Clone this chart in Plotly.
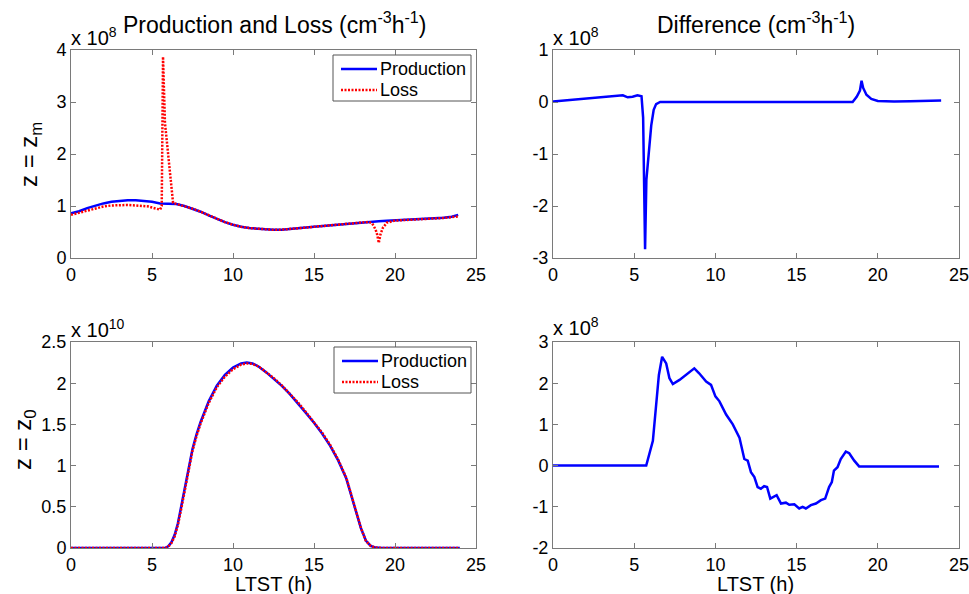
import plotly.graph_objects as go

# ---------------- data (values in units of the axis exponent) ----------------
# top-left: z = z_m, units 1e8 cm^-3 h^-1
t_prod_m = [0, 0.5, 1, 1.5, 2, 2.5, 3, 3.5, 4, 4.5, 5, 5.5, 6, 6.5, 7, 7.5, 8, 8.5, 9, 9.5,
            10, 10.5, 11, 11.5, 12, 12.5, 13, 13.5, 14, 14.5, 15, 15.5, 16, 16.5, 17, 17.5,
            18, 18.5, 19, 19.5, 20, 20.5, 21, 21.5, 22, 22.5, 23, 23.5, 23.9]
prod_m = [0.86, 0.90, 0.96, 1.01, 1.05, 1.08, 1.10, 1.11, 1.11, 1.10, 1.08, 1.05, 1.05, 1.04,
          1.00, 0.95, 0.89, 0.82, 0.75, 0.69, 0.64, 0.60, 0.575, 0.56, 0.548, 0.542, 0.545,
          0.555, 0.57, 0.585, 0.60, 0.615, 0.63, 0.645, 0.66, 0.672, 0.685, 0.697, 0.707,
          0.715, 0.722, 0.73, 0.737, 0.745, 0.752, 0.762, 0.775, 0.795, 0.83]

t_loss_m = [0, 0.5, 1, 1.5, 2, 2.5, 3, 3.5, 4, 4.5, 4.8, 5.0, 5.3, 5.5, 5.6, 5.68, 5.8, 6.3,
            6.5, 7, 7.5, 8, 8.5, 9, 9.5, 10, 10.5, 11, 11.5, 12, 12.5, 13, 13.5, 14, 14.5,
            15, 15.5, 16, 16.5, 17, 17.5, 18, 18.4, 18.6, 18.8, 18.9, 19.0, 19.1, 19.25,
            19.5, 19.8, 20, 20.5, 21, 21.5, 22, 22.5, 23, 23.5, 23.9]
loss_m = [0.83, 0.87, 0.92, 0.96, 0.99, 1.01, 1.02, 1.02, 1.01, 1.00, 0.99, 0.97, 0.94, 0.93,
          1.00, 3.87, 2.60, 1.06, 1.04, 1.00, 0.95, 0.89, 0.82, 0.75, 0.69, 0.64, 0.60, 0.575,
          0.56, 0.548, 0.542, 0.545, 0.555, 0.57, 0.585, 0.60, 0.615, 0.63, 0.645, 0.66,
          0.672, 0.685, 0.695, 0.66, 0.55, 0.45, 0.29, 0.45, 0.58, 0.68, 0.712, 0.72, 0.728,
          0.735, 0.742, 0.75, 0.758, 0.77, 0.785, 0.80]

# top-right: difference at z_m, units 1e8
t_diff_m = [0, 1, 2, 3, 4, 4.3, 4.6, 4.9, 5.2, 5.45, 5.55, 5.67, 5.75, 5.9, 6.05, 6.2, 6.35,
            6.6, 8, 10, 12, 14, 16, 18, 18.45, 18.7, 18.9, 19.0, 19.1, 19.3, 19.6, 20, 21,
            22, 23, 23.9]
diff_m = [0.01, 0.04, 0.07, 0.09, 0.12, 0.13, 0.09, 0.10, 0.13, 0.11, -0.30, -2.83, -1.50,
          -0.90, -0.45, -0.15, -0.04, 0.0, 0.0, -0.005, -0.01, -0.01, -0.01, -0.005, 0.0,
          0.10, 0.22, 0.41, 0.27, 0.14, 0.06, 0.02, 0.01, 0.015, 0.02, 0.03]

# bottom-left: z = z_0, units 1e10
t_z0 = [0, 5.8, 6.0, 6.2, 6.4, 6.6, 6.8, 7.0, 7.25, 7.5, 7.75, 8.0, 8.5, 9.0, 9.5, 10.0, 10.5,
        10.85, 11.2, 11.6, 12.0, 12.5, 13.0, 13.5, 14.0, 14.5, 15.0, 15.5, 16.0, 16.5, 17.0,
        17.3, 17.6, 17.9, 18.2, 18.5, 18.8, 19.2, 24]
prod_0 = [0, 0, 0.02, 0.07, 0.16, 0.30, 0.50, 0.70, 0.95, 1.20, 1.38, 1.53, 1.78, 1.97, 2.10,
          2.19, 2.24, 2.25, 2.24, 2.20, 2.14, 2.06, 1.97, 1.87, 1.76, 1.64, 1.52, 1.39, 1.24,
          1.06, 0.84, 0.65, 0.44, 0.24, 0.09, 0.025, 0.005, 0, 0]
loss_0 = [0, 0, 0.015, 0.06, 0.14, 0.28, 0.47, 0.68, 0.93, 1.18, 1.36, 1.51, 1.76, 1.95, 2.08,
          2.17, 2.225, 2.24, 2.235, 2.20, 2.14, 2.065, 1.975, 1.878, 1.769, 1.649, 1.53, 1.40,
          1.25, 1.069, 0.848, 0.657, 0.445, 0.242, 0.088, 0.025, 0.005, 0, 0]

# bottom-right: difference at z_0, units 1e8
t_diff_0 = [0, 5.74, 6.15, 6.4, 6.52, 6.72, 6.97, 7.17, 7.38, 7.79, 8.2, 8.7, 9.0, 9.43, 9.73,
            10.0, 10.25, 10.66, 11.07, 11.37, 11.48, 11.78, 11.99, 12.19, 12.4, 12.6, 12.8,
            13.0, 13.18, 13.38, 13.63, 13.77, 14.04, 14.34, 14.55, 14.86, 15.16, 15.37, 15.57,
            15.88, 16.19, 16.5, 16.76, 17.0, 17.17, 17.3, 17.52, 17.72, 18.03, 18.24, 18.55,
            18.85, 23.77]
diff_0 = [0, 0, 0.6, 1.64, 2.2, 2.64, 2.48, 2.12, 1.98, 2.08, 2.2, 2.36, 2.24, 2.04, 1.96,
          1.68, 1.56, 1.24, 1.0, 0.76, 0.68, 0.16, 0.12, -0.16, -0.28, -0.52, -0.56, -0.5,
          -0.52, -0.8, -0.76, -0.72, -0.92, -0.9, -0.95, -0.94, -1.04, -1.0, -1.04, -0.96,
          -0.92, -0.84, -0.8, -0.52, -0.4, -0.12, -0.04, 0.16, 0.34, 0.3, 0.12, -0.02, -0.02]

# tick values / labels
x_ticks = [0, 5, 10, 15, 20, 25]
y_ticks_tl = [0, 1, 2, 3, 4]
y_ticks_tr = [-3, -2, -1, 0, 1]
y_labels_tr = ["-3", "-2", "-1", "0", "1"]
y_ticks_bl = [0, 0.5, 1, 1.5, 2, 2.5]
y_labels_bl = ["0", "0.5", "1", "1.5", "2", "2.5"]
y_ticks_br = [-2, -1, 0, 1, 2, 3]
y_labels_br = ["-2", "-1", "0", "1", "2", "3"]
legend_names = ["Production", "Loss"]

# ---------------- styling ----------------
FONT = "Arial, Liberation Sans, sans-serif"
AX = "#7a7a7a"
BLUE = "#0000ff"
RED = "#ff0000"
LOSS_DASH = "2px,1.5px"
W, H = 969, 594

def px_x(p):
    return p / W

def px_y(p):
    return 1 - p / H

fig = go.Figure()

fig.add_trace(go.Scatter(x=t_prod_m, y=prod_m, mode="lines", name=legend_names[0],
                         line=dict(color=BLUE, width=2.5), xaxis="x", yaxis="y"))
fig.add_trace(go.Scatter(x=t_loss_m, y=loss_m, mode="lines", name=legend_names[1],
                         line=dict(color=RED, width=2.5, dash=LOSS_DASH), xaxis="x", yaxis="y"))
fig.add_trace(go.Scatter(x=t_diff_m, y=diff_m, mode="lines", name="Difference",
                         line=dict(color=BLUE, width=2.5), xaxis="x2", yaxis="y2"))
fig.add_trace(go.Scatter(x=t_z0, y=prod_0, mode="lines", name=legend_names[0],
                         line=dict(color=BLUE, width=2.5), xaxis="x3", yaxis="y3"))
fig.add_trace(go.Scatter(x=t_z0, y=loss_0, mode="lines", name=legend_names[1],
                         line=dict(color=RED, width=2.5, dash=LOSS_DASH), xaxis="x3", yaxis="y3"))
fig.add_trace(go.Scatter(x=t_diff_0, y=diff_0, mode="lines", name="Difference",
                         line=dict(color=BLUE, width=2.5), xaxis="x4", yaxis="y4"))

left_dom = [px_x(71), px_x(476)]
right_dom = [px_x(553), px_x(959)]
top_dom = [px_y(258), px_y(50)]
bot_dom = [px_y(548), px_y(342)]

def xax(dom, anchor):
    return dict(domain=dom, anchor=anchor, range=[0, 25], tickvals=x_ticks,
                ticks="inside", ticklen=5, tickcolor=AX, showline=True, linecolor=AX,
                linewidth=1, mirror="ticks", showgrid=False, zeroline=False, automargin=False,
                ticklabeloverflow="allow",
                tickfont=dict(size=18, color="black", family=FONT), ticklabelstandoff=0)

def yax(dom, anchor, rng, vals, labels):
    return dict(domain=dom, anchor=anchor, range=rng, tickvals=vals, ticktext=labels,
                ticks="inside", ticklen=5, tickcolor=AX, showline=True, linecolor=AX,
                linewidth=1, mirror="ticks", showgrid=False, zeroline=False, automargin=False,
                ticklabeloverflow="allow",
                tickfont=dict(size=18, color="black", family=FONT), ticklabelstandoff=0)

annotations = []
shapes = []

def ann(text, x, y, size, xanchor="center", yanchor="middle", angle=0):
    annotations.append(dict(text=text, x=x, y=y, xref="paper", yref="paper",
                            showarrow=False, xanchor=xanchor, yanchor=yanchor,
                            textangle=angle, font=dict(size=size, family=FONT, color="black")))

def legend_box(x0, y0, x1, y1, rows):
    # MATLAB-style legend drawn with shapes and text (pixel positions)
    shapes.append(dict(type="rect", xref="paper", yref="paper",
                       x0=px_x(x0), x1=px_x(x1), y0=px_y(y1), y1=px_y(y0),
                       line=dict(color="#555555", width=1), fillcolor="white", layer="above"))
    for (yc, name, color, dash) in rows:
        shapes.append(dict(type="line", xref="paper", yref="paper",
                           x0=px_x(x0 + 8), x1=px_x(x0 + 44), y0=px_y(yc), y1=px_y(yc),
                           line=dict(color=color, width=2.5, dash=dash), layer="above"))
        ann(name, px_x(x0 + 45), px_y(yc), 18, xanchor="left")

legend_box(333, 55, 471, 101, [(69, legend_names[0], BLUE, "solid"),
                               (90, legend_names[1], RED, LOSS_DASH)])
legend_box(334, 347, 471, 393, [(361, legend_names[0], BLUE, "solid"),
                                (382, legend_names[1], RED, LOSS_DASH)])

ann("Production and Loss (cm<sup>-3</sup>h<sup>-1</sup>)", px_x(275), px_y(23), 23)
ann("Difference (cm<sup>-3</sup>h<sup>-1</sup>)", px_x(756), px_y(23), 23)
ann("x 10<sup>8</sup>", px_x(69), px_y(51), 20, xanchor="left", yanchor="bottom")
ann("x 10<sup>8</sup>", px_x(551), px_y(51), 20, xanchor="left", yanchor="bottom")
ann("x 10<sup>10</sup>", px_x(69), px_y(343), 20, xanchor="left", yanchor="bottom")
ann("x 10<sup>8</sup>", px_x(551), px_y(341), 20, xanchor="left", yanchor="bottom")
ann("z = z<sub>m</sub>", px_x(30), px_y(155), 24, angle=-90)
ann("z = z<sub>0</sub>", px_x(24), px_y(440), 24, angle=-90)
ann("LTST (h)", px_x(273), px_y(584), 20)
ann("LTST (h)", px_x(755), px_y(584), 20)

fig.update_layout(
    width=W, height=H,
    margin=dict(l=0, r=0, t=0, b=0),
    paper_bgcolor="white", plot_bgcolor="white",
    font=dict(family=FONT, size=18, color="black"),
    xaxis=xax(left_dom, "y"), yaxis=yax(top_dom, "x", [0, 4], y_ticks_tl, [str(v) for v in y_ticks_tl]),
    xaxis2=xax(right_dom, "y2"), yaxis2=yax(top_dom, "x2", [-3, 1], y_ticks_tr, y_labels_tr),
    xaxis3=xax(left_dom, "y3"), yaxis3=yax(bot_dom, "x3", [0, 2.5], y_ticks_bl, y_labels_bl),
    xaxis4=xax(right_dom, "y4"), yaxis4=yax(bot_dom, "x4", [-2, 3], y_ticks_br, y_labels_br),
    annotations=annotations,
    shapes=shapes,
    showlegend=False,
)

fig.write_html("out.html", config={"displayModeBar": False},
               post_script="document.body.style.margin='0';document.body.style.overflow='hidden';")
